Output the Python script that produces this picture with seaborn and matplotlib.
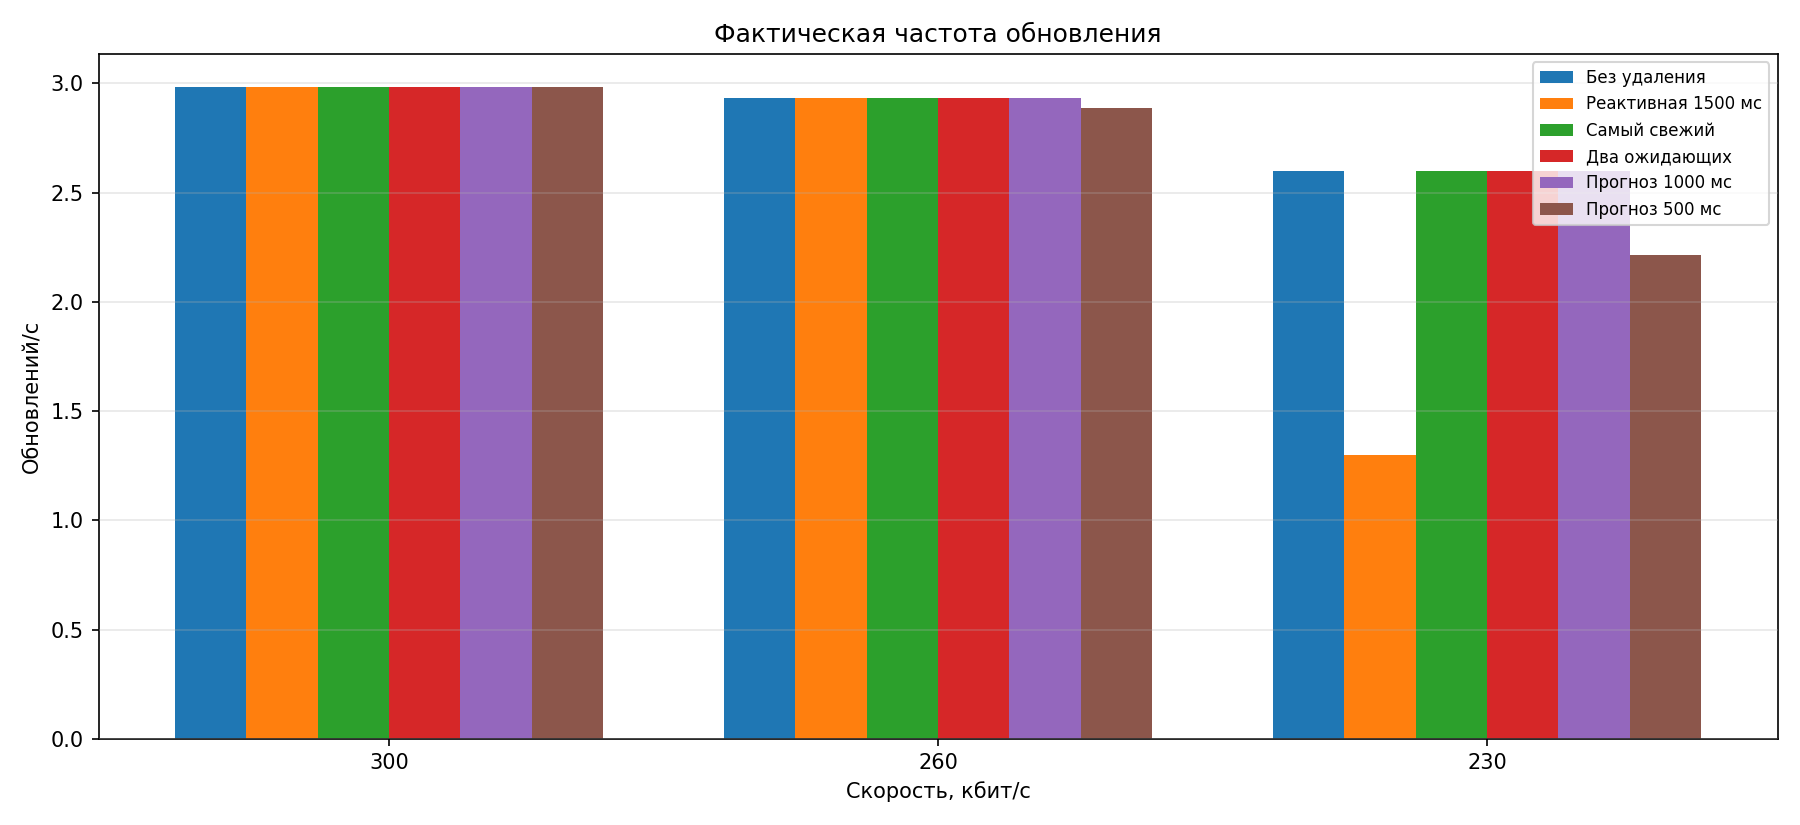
import matplotlib
matplotlib.use("Agg")
import matplotlib.pyplot as plt
import pandas as pd
import seaborn as sns

speeds = ["300", "260", "230"]
methods = ["Без удаления", "Реактивная 1500 мс", "Самый свежий",
           "Два ожидающих", "Прогноз 1000 мс", "Прогноз 500 мс"]

no_drop = [2.985, 2.933, 2.60]
reactive_1500 = [2.985, 2.933, 1.30]
freshest = [2.985, 2.933, 2.60]
two_pending = [2.985, 2.933, 2.60]
forecast_1000 = [2.985, 2.933, 2.60]
forecast_500 = [2.985, 2.888, 2.214]

series = [no_drop, reactive_1500, freshest, two_pending, forecast_1000, forecast_500]

rows = []
for name, vals in zip(methods, series):
    for sp, v in zip(speeds, vals):
        rows.append({"speed": sp, "method": name, "rate": v})
df = pd.DataFrame(rows)

fig, ax = plt.subplots(figsize=(12, 5.5), dpi=150)
sns.barplot(data=df, x="speed", y="rate", hue="method", order=speeds,
            hue_order=methods, palette="tab10", saturation=1, width=0.78,
            gap=0, errorbar=None, ax=ax)

ax.set_xlim(-0.529, 2.529)
ax.set_title("Фактическая частота обновления")
ax.set_xlabel("Скорость, кбит/с")
ax.set_ylabel("Обновлений/с")
ax.grid(axis="y", alpha=0.3)
ax.set_axisbelow(False)

handles, labels = ax.get_legend_handles_labels()
ax.legend(handles, labels, loc="upper right", fontsize=8)

plt.tight_layout()
plt.savefig("out.png", dpi=150)
